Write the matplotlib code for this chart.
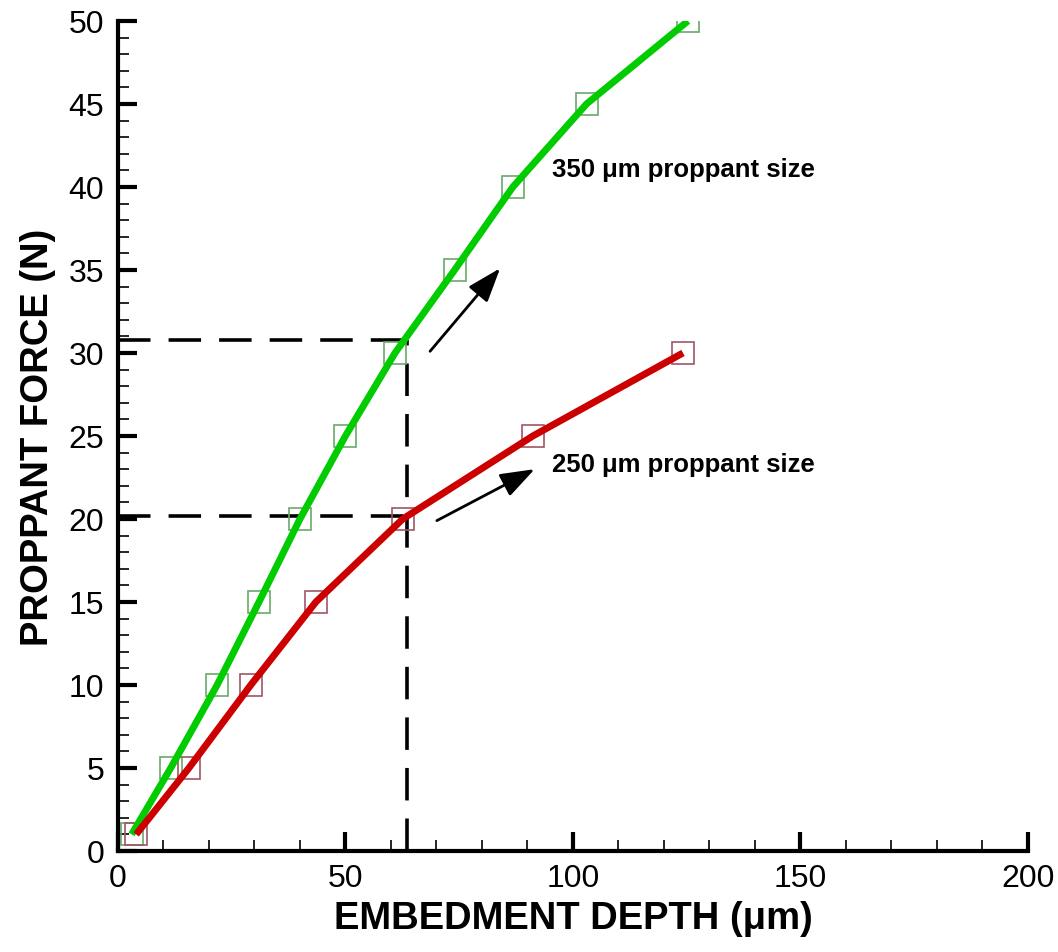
import matplotlib.pyplot as plt
from matplotlib.ticker import MultipleLocator

plt.rcParams['font.family'] = ['Liberation Sans', 'DejaVu Sans']

# proppant force vs embedment depth, two proppant sizes
force = [1, 5, 10, 15, 20, 25, 30, 35, 40, 45, 50]
depth_350 = [3.0, 11.6, 21.8, 31.0, 40.0, 50.0, 60.9, 74.0, 86.8, 103.0, 125.3]

force_250 = [1, 5, 10, 15, 20, 25, 30]
depth_250 = [4.0, 15.6, 29.2, 43.5, 62.6, 91.2, 124.2]

guide_depth = 63.5
guide_force = [30.8, 20.2]

green = '#00cc00'
red = '#cc0000'

fig = plt.figure(figsize=(10.58, 9.53), dpi=100)
ax = fig.add_axes([0.1115, 0.106, 0.86, 0.871])

ax.plot(depth_350, force, ls='none', marker='s', ms=16, mfc='none',
        mec='#6aa86a', mew=1.2, zorder=2)
ax.plot(depth_250, force_250, ls='none', marker='s', ms=16, mfc='none',
        mec='#a05565', mew=1.2, zorder=2)
ax.plot(depth_350, force, color=green, lw=5, solid_capstyle='butt', zorder=3)
ax.plot(depth_250, force_250, color=red, lw=5, solid_capstyle='butt', zorder=3)

dash = dict(color='black', lw=2.6, ls=(0, (9, 5)), zorder=1)
for f in guide_force:
    ax.plot([0, guide_depth], [f, f], **dash)
ax.plot([guide_depth, guide_depth], [0, guide_force[0]], **dash)

arrow = dict(arrowstyle='-|>,head_length=1.4,head_width=0.5', color='black',
             lw=2, shrinkA=0, shrinkB=0, mutation_scale=15)
ax.annotate('', xy=(84.0, 35.1), xytext=(68.6, 30.1), arrowprops=arrow)
ax.annotate('', xy=(91.6, 23.0), xytext=(70.1, 19.9), arrowprops=arrow)

ax.text(95.5, 41.1, '350 \u03bcm proppant size', fontsize=18.5,
        fontweight='bold', va='center', ha='left')
ax.text(95.5, 23.3, '250 \u03bcm proppant size', fontsize=18.5,
        fontweight='bold', va='center', ha='left')

ax.set_xlim(0, 200)
ax.set_ylim(0, 50)
ax.xaxis.set_major_locator(MultipleLocator(50))
ax.xaxis.set_minor_locator(MultipleLocator(10))
ax.yaxis.set_major_locator(MultipleLocator(5))
ax.yaxis.set_minor_locator(MultipleLocator(1))

for side in ['top', 'right']:
    ax.spines[side].set_visible(False)
for side in ['left', 'bottom']:
    ax.spines[side].set_linewidth(3)

ax.tick_params(which='major', direction='in', length=14, width=3,
               labelsize=23, pad=10)
ax.tick_params(which='minor', direction='in', length=8, width=1.2)
ax.tick_params(axis='x', which='major', pad=9)

ax.set_xlabel('EMBEDMENT DEPTH (\u03bcm)', fontsize=27.5, fontweight='bold',
              labelpad=5)
ax.set_ylabel('PROPPANT FORCE (N)', fontsize=27.5, fontweight='bold',
              labelpad=9)

fig.savefig('out.png', dpi=100)
